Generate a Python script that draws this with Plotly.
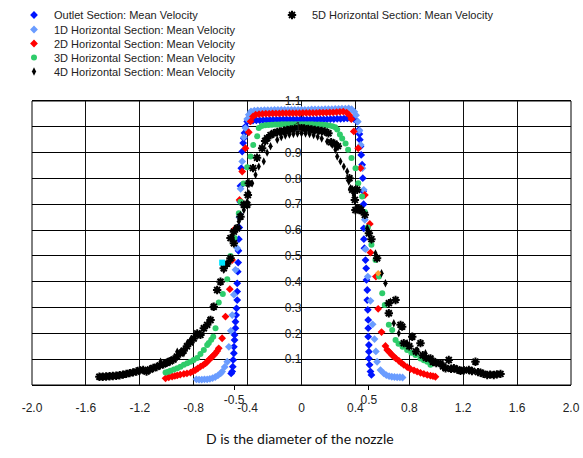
import plotly.graph_objects as go

# ---------------- data ----------------
outlet_x = [-0.522,-0.514,-0.510,-0.507,-0.502,-0.502,-0.497,-0.497,-0.490,-0.490,-0.485,-0.482,-0.477,-0.477,-0.477,-0.473,-0.470,-0.468,-0.465,-0.462,-0.458,-0.455,-0.453,-0.447,-0.440,-0.433,-0.428,-0.423,-0.416,-0.403,
            -0.385,-0.36,-0.335,-0.31,-0.285,-0.26,-0.235,-0.21,-0.185,-0.16,-0.135,-0.11,-0.085,-0.06,-0.035,-0.01,0.015,0.04,0.065,0.09,0.115,0.14,0.165,0.19,0.215,0.24,0.265,0.29,0.315,0.34,0.365,0.39,
            0.413,0.425,0.430,0.433,0.438,0.443,0.450,0.455,0.458,0.461,0.462,0.463,0.467,0.475,0.480,0.482,0.488,0.488,0.492,0.495,0.495,0.495,0.500,0.500,0.500,0.505,0.512,0.519]
outlet_y = [0.045,0.052,0.071,0.097,0.123,0.148,0.174,0.194,0.220,0.245,0.271,0.297,0.329,0.362,0.394,0.439,0.474,0.520,0.565,0.610,0.660,0.710,0.771,0.840,0.904,0.937,0.956,0.976,1.001,1.021,
            1.023,1.024,1.025,1.025,1.026,1.026,1.027,1.027,1.027,1.028,1.028,1.028,1.028,1.028,1.028,1.028,1.028,1.028,1.028,1.028,1.028,1.029,1.029,1.029,1.030,1.030,1.031,1.031,1.032,1.033,1.033,1.030,
            1.021,0.988,0.972,0.950,0.924,0.891,0.853,0.801,0.750,0.700,0.607,0.565,0.530,0.484,0.452,0.407,0.368,0.329,0.291,0.252,0.220,0.187,0.155,0.129,0.103,0.078,0.052,0.039]

d1_x = [-0.780,-0.760,-0.740,-0.720,-0.700,-0.680,-0.660,-0.640,-0.620,-0.600,-0.589,-0.570,-0.551,-0.539,-0.525,-0.514,-0.502,-0.490,-0.477,-0.462,-0.452,-0.440,-0.428,-0.416,-0.403,-0.391,-0.375,
        -0.35,-0.325,-0.30,-0.275,-0.25,-0.225,-0.20,-0.175,-0.15,-0.125,-0.10,-0.075,-0.05,-0.025,0.0,0.025,0.05,0.075,0.10,0.125,0.15,0.175,0.20,0.225,0.25,0.275,0.30,0.325,0.35,
        0.372,0.392,0.405,0.418,0.430,0.440,0.452,0.462,0.470,0.475,0.492,0.512,0.528,0.542,0.552,0.561,0.586,0.611,0.630,0.650,0.670,0.690,0.710,0.730,0.750]
d1_y = [0.022,0.021,0.021,0.022,0.022,0.024,0.027,0.031,0.037,0.045,0.052,0.070,0.090,0.148,0.210,0.271,0.350,0.446,0.530,0.650,0.760,0.866,0.960,0.995,1.030,1.047,1.060,
        1.063,1.064,1.064,1.065,1.065,1.065,1.066,1.066,1.066,1.066,1.066,1.066,1.066,1.066,1.066,1.066,1.066,1.067,1.067,1.067,1.067,1.068,1.068,1.068,1.069,1.069,1.070,1.070,1.071,
        1.068,1.058,1.045,1.020,0.985,0.930,0.840,0.756,0.640,0.526,0.420,0.326,0.235,0.178,0.130,0.090,0.058,0.045,0.038,0.034,0.032,0.031,0.030,0.030,0.029]

d2_x = [-1.009,-0.985,-0.960,-0.940,-0.922,-0.900,-0.873,-0.850,-0.824,-0.805,-0.787,-0.770,-0.750,-0.730,-0.712,-0.700,-0.688,-0.675,-0.663,-0.650,-0.638,-0.625,-0.614,-0.589,-0.564,-0.532,-0.515,-0.497,-0.460,-0.440,-0.416,-0.391,-0.378,-0.360,
        -0.34,-0.315,-0.29,-0.265,-0.24,-0.215,-0.19,-0.165,-0.14,-0.115,-0.09,-0.065,-0.04,-0.015,0.01,0.035,0.06,0.085,0.11,0.135,0.16,0.185,0.21,0.235,0.26,0.285,0.31,0.335,
        0.355,0.370,0.388,0.421,0.438,0.470,0.507,0.512,0.552,0.569,0.594,0.623,0.636,0.648,0.660,0.672,0.685,0.700,0.722,0.740,0.759,0.785,0.809,0.835,0.858,0.883,0.908,0.933,0.957,0.976,0.994]
d2_y = [0.026,0.030,0.033,0.035,0.037,0.040,0.043,0.045,0.048,0.053,0.058,0.064,0.071,0.077,0.084,0.090,0.097,0.103,0.110,0.116,0.123,0.132,0.142,0.181,0.265,0.371,0.484,0.603,0.717,0.827,0.917,0.979,1.021,1.040,
        1.047,1.049,1.050,1.051,1.051,1.052,1.052,1.052,1.053,1.053,1.053,1.053,1.053,1.053,1.054,1.054,1.054,1.054,1.054,1.055,1.055,1.055,1.056,1.056,1.057,1.058,1.059,1.055,
        1.045,1.030,0.982,0.917,0.840,0.736,0.624,0.513,0.420,0.295,0.205,0.151,0.136,0.130,0.123,0.116,0.110,0.103,0.094,0.086,0.078,0.069,0.062,0.057,0.052,0.047,0.043,0.039,0.036,0.034,0.032]

d3_x = [-1.009,-0.990,-0.972,-0.947,-0.922,-0.898,-0.873,-0.848,-0.824,-0.800,-0.774,-0.750,-0.725,-0.700,-0.688,-0.670,-0.655,-0.638,-0.614,-0.584,-0.551,-0.527,-0.497,-0.465,-0.453,-0.430,-0.403,-0.378,-0.358,-0.329,-0.317,-0.295,
        -0.27,-0.245,-0.22,-0.195,-0.17,-0.145,-0.12,-0.095,-0.07,-0.045,-0.02,0.005,0.03,0.055,0.08,0.105,0.13,0.155,0.18,0.205,0.23,0.25,
        0.265,0.285,0.302,0.327,0.346,0.371,0.401,0.421,0.450,0.470,0.492,0.519,0.549,0.575,0.599,0.618,0.648,0.673,0.698,0.720,0.750,0.784,0.815,0.846,0.883,0.908,0.933,0.957]
d3_y = [0.048,0.051,0.055,0.060,0.065,0.071,0.078,0.084,0.090,0.097,0.105,0.120,0.136,0.155,0.163,0.175,0.187,0.220,0.320,0.352,0.410,0.500,0.569,0.665,0.710,0.780,0.843,0.885,0.930,0.963,0.995,1.003,
        1.006,1.007,1.008,1.009,1.009,1.010,1.010,1.010,1.010,1.010,1.010,1.010,1.010,1.010,1.010,1.009,1.009,1.008,1.007,1.005,1.002,0.998,
        0.990,0.970,0.955,0.935,0.911,0.879,0.840,0.781,0.730,0.670,0.610,0.543,0.484,0.420,0.355,0.310,0.233,0.213,0.174,0.160,0.148,0.136,0.125,0.116,0.103,0.096,0.090,0.078]

d4_x = [-1.046,-0.985,-0.922,-0.873,-0.848,-0.824,-0.787,-0.762,-0.725,-0.688,-0.663,-0.626,-0.601,-0.577,-0.527,-0.514,-0.490,-0.465,-0.453,-0.428,-0.403,-0.391,-0.366,-0.341,-0.317,-0.280,-0.255,-0.230,-0.180,-0.150,-0.120,-0.090,-0.060,-0.030,0.000,0.030,0.060,0.090,0.120,0.150,0.190,0.228,0.252,0.265,0.289,0.314,0.339,0.351,0.364,0.388,0.413,0.450,0.488,0.519,0.549,0.594,0.623,0.660,0.685,0.722,0.784,0.858,0.920,0.994]
d4_y = [0.090,0.092,0.129,0.123,0.162,0.174,0.194,0.194,0.220,0.252,0.303,0.368,0.400,0.446,0.484,0.575,0.607,0.633,0.659,0.678,0.710,0.743,0.781,0.814,0.846,0.866,0.900,0.925,0.950,0.960,0.966,0.970,0.972,0.974,0.975,0.974,0.972,0.968,0.962,0.955,0.943,0.930,0.911,0.885,0.866,0.846,0.827,0.788,0.762,0.736,0.685,0.678,0.607,0.562,0.510,0.433,0.394,0.323,0.239,0.200,0.162,0.136,0.123,0.090]

d5_x = [-1.500,-1.475,-1.450,-1.425,-1.400,-1.375,-1.350,-1.325,-1.300,-1.275,-1.250,-1.225,-1.200,-1.175,-1.150,-1.125,-1.100,-1.075,-1.050,-1.025,-1.000,-0.975,-0.950,-0.925,-0.900,-0.875,-0.850,-0.825,-0.800,
        -0.774,-0.750,-0.725,-0.700,-0.675,-0.651,-0.626,-0.601,-0.577,-0.552,-0.527,-0.502,
        -0.527,-0.502,-0.477,-0.453,-0.428,-0.403,-0.398,-0.391,
        -0.360,-0.330,-0.292,-0.270,-0.255,-0.230,-0.206,-0.180,-0.160,-0.130,-0.106,-0.080,-0.050,-0.020,0.000,0.020,0.050,0.075,0.099,0.125,0.150,0.173,0.200,0.220,0.245,0.270,
        0.356,0.376,0.396,0.400,0.413,0.425,0.430,0.440,0.470,0.500,0.519,0.561,
        0.648,0.648,0.698,0.735,0.747,0.759,0.800,0.822,0.850,0.883,0.900,0.925,0.957,0.975,1.000,1.032,1.050,1.069,1.093,1.110,1.131,1.155,1.180,1.205,1.242,1.265,1.291,1.310,1.328,1.350,1.378,1.400,1.427,1.450,1.477]
d5_y = [0.032,0.032,0.033,0.034,0.035,0.036,0.038,0.040,0.043,0.046,0.049,0.052,0.057,0.058,0.052,0.060,0.066,0.070,0.076,0.080,0.086,0.092,0.099,0.110,0.123,0.133,0.150,0.165,0.180,
        0.200,0.194,0.220,0.233,0.252,0.303,0.368,0.400,0.452,0.470,0.491,0.549,
        0.569,0.594,0.607,0.652,0.698,0.698,0.736,0.781,
        0.840,0.880,0.917,0.945,0.956,0.968,0.975,0.980,0.982,0.985,0.988,0.990,0.993,0.994,0.995,0.994,0.992,0.990,0.988,0.986,0.984,0.982,0.975,0.940,0.935,0.925,
        0.801,0.756,0.717,0.678,0.756,0.685,0.678,0.678,0.659,0.588,0.565,0.491,
        0.317,0.278,0.329,0.233,0.226,0.162,0.150,0.187,0.130,0.162,0.115,0.105,0.103,0.090,0.085,0.084,0.072,0.065,0.097,0.063,0.065,0.060,0.055,0.057,0.058,0.054,0.090,0.050,0.048,0.043,0.039,0.040,0.039,0.041,0.043]

extra_cyan_x = [-0.589]
extra_cyan_y = [0.474]
extra_orange_x = [0.569]
extra_orange_y = [0.433]

x_tickvals = [-2.0, -1.6, -1.2, -0.8, -0.4, 0.0, 0.4, 0.8, 1.2, 1.6, 2.0]
x_ticktext = ["-2.0", "-1.6", "-1.2", "-0.8", "-0.4", "0", "0.4", "0.8", "1.2", "1.6", "2.0"]
x2_tickvals = [-0.5, 0.5]
x2_ticktext = ["-0.5", "0.5"]
y_tickvals = [0.1, 0.2, 0.3, 0.4, 0.5, 0.6, 0.7, 0.8, 0.9, 1.0, 1.1]
y_ticktext = ["0.1", "0.2", "0.3", "0.4", "0.5", "0.6", "0.7", "0.8", "0.9", "1", "1.1"]

names = ["Outlet Section: Mean Velocity", "1D Horizontal Section: Mean Velocity",
         "2D Horizontal Section: Mean Velocity", "3D Horizontal Section: Mean Velocity",
         "4D Horizontal Section: Mean Velocity", "5D Horizontal Section: Mean Velocity"]

# ---------------- figure ----------------
FONT = "Liberation Sans, Arial, sans-serif"
fig = go.Figure()

series = [
    (outlet_x, outlet_y, names[0], dict(symbol="diamond", size=6, color="#0014FF"), "legend"),
    (d1_x, d1_y, names[1], dict(symbol="diamond", size=6, color="#6A9CFF"), "legend2"),
    (d2_x, d2_y, names[2], dict(symbol="diamond", size=6, color="#FF0000"), "legend3"),
    (d3_x, d3_y, names[3], dict(symbol="circle", size=6, color="#2ECC6A"), "legend4"),
    (d4_x, d4_y, names[4], dict(symbol="diamond-tall", size=6, color="#000000"), "legend5"),
    (d5_x, d5_y, names[5], dict(symbol="asterisk-open", size=7, color="#000000",
                                line=dict(color="#000000", width=2)), "legend6"),
]
for xs, ys, nm, mk, lg in series:
    fig.add_trace(go.Scatter(x=xs, y=ys, mode="markers", name=nm, marker=mk,
                             legend=lg, cliponaxis=False))

fig.add_trace(go.Scatter(x=extra_cyan_x, y=extra_cyan_y, mode="markers", showlegend=False,
                         marker=dict(symbol="square", size=6, color="#00E5FF"), xaxis="x2"))
fig.add_trace(go.Scatter(x=extra_orange_x, y=extra_orange_y, mode="markers", showlegend=False,
                         marker=dict(symbol="diamond", size=5, color="#FF9A30")))

tickfont = dict(family=FONT, size=12, color="#222222")
legfont = dict(family=FONT, size=11, color="#222222")

legend_common = dict(xref="container", yref="container", xanchor="left", yanchor="middle",
                     bgcolor="rgba(0,0,0,0)", borderwidth=0, font=legfont)
H = 458.0
rows = [15, 29.5, 43.5, 57.5, 71.5]
legends = {}
for i, key in enumerate(["legend", "legend2", "legend3", "legend4", "legend5"]):
    legends[key] = dict(legend_common, x=14 / 583.0, y=1 - rows[i] / H)
legends["legend6"] = dict(legend_common, x=272 / 583.0, y=1 - 15 / H)

fig.update_layout(
    width=583, height=458,
    margin=dict(l=32, r=12, t=101, b=73, autoexpand=False),
    paper_bgcolor="white", plot_bgcolor="white",
    showlegend=True,
    xaxis=dict(range=[-2, 2], tickvals=x_tickvals, ticktext=x_ticktext,
               showgrid=True, gridcolor="#111111", gridwidth=1, zeroline=False,
               showline=True, linecolor="#000000", linewidth=1, mirror=True,
               ticks="", tickfont=tickfont, ticklabelstandoff=12, automargin=False),
    xaxis2=dict(overlaying="x", matches="x", anchor="y", side="bottom",
                tickvals=x2_tickvals, ticktext=x2_ticktext, ticks="outside", ticklen=4,
                tickcolor="#000000", showgrid=False, zeroline=False, showline=False,
                tickfont=tickfont, ticklabelstandoff=0, automargin=False),
    yaxis=dict(range=[0, 1.1], tickvals=y_tickvals, ticktext=y_ticktext,
               showgrid=True, gridcolor="#000000", gridwidth=1, zeroline=False,
               showline=False, anchor="free", position=0.5, ticks="",
               tickfont=tickfont, automargin=False),
    shapes=[dict(type="rect", xref="paper", yref="paper", x0=0, x1=1, y0=0, y1=1,
                 line=dict(color="#000000", width=1), layer="below")],
    annotations=[dict(text="D is the diameter of the nozzle", xref="paper", yref="paper",
                      x=(300 - 32) / 539.0, y=(385 - 438) / 284.0, xanchor="center",
                      yanchor="middle", showarrow=False,
                      font=dict(family="Lato, Carlito, sans-serif", size=14, color="#111111"))],
    **legends,
)

fig.write_html("out.html", config={"displayModeBar": False},
               post_script="document.body.style.margin='0';document.body.style.padding='0';")
